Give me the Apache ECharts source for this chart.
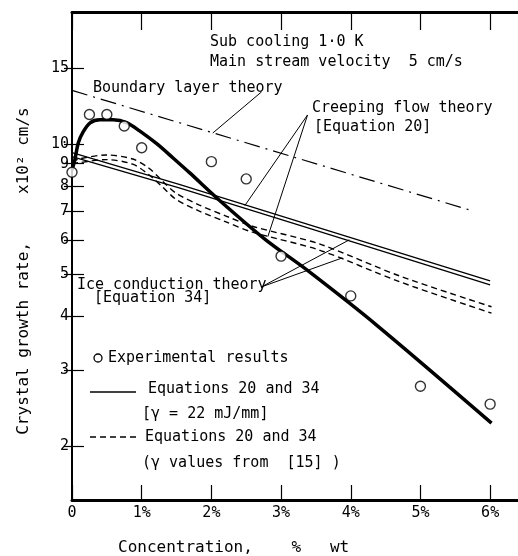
<!DOCTYPE html>
<html>
<head>
<meta charset="utf-8">
<script src="https://cdn.jsdelivr.net/npm/echarts@6/dist/echarts.min.js"></script>
<style>
  html, body { margin: 0; padding: 0; background: #fff; }
  #chart { width: 518px; height: 556px; }
</style>
</head>
<body>
<div id="chart"></div>
<script>
const FONT = '"DejaVu Sans Mono", monospace';

// concentration (% wt) ticks and growth-rate ticks (x10^2 cm/s)
const xTicks = [0, 1, 2, 3, 4, 5, 6];
const yTicks = [2, 3, 4, 5, 6, 7, 8, 9, 10, 15];

// experimental results (circles)
const expX = [0, 0.25, 0.5, 0.75, 1, 2, 2.5, 3, 4, 5, 6];
const expY = [8.6, 11.7, 11.7, 11.0, 9.8, 9.1, 8.3, 5.5, 4.45, 2.75, 2.5];

// heavy curve through the experiments
const fitX = [0, 0.04, 0.09, 0.16, 0.26, 0.4, 0.59, 0.79, 0.97, 1.22, 1.45, 1.69, 2.11, 2.78, 3.37, 4.37, 6.02];
const fitY = [8.71, 9.18, 10.05, 10.66, 11.19, 11.37, 11.37, 11.19, 10.72, 10.0, 9.28, 8.57, 7.42, 6.0, 5.11, 3.81, 2.26];

// boundary layer theory (dash-dot)
const blX = [0, 5.75];
const blY = [13.3, 7.0];

// equations 20 and 34, gamma = 22 mJ/mm (solid pair)
const solX = [0, 1.55, 3.27, 6];
const sol20Y = [9.55, 8.05, 6.6, 4.82];
const sol34Y = [9.35, 7.9, 6.48, 4.72];

// equations 20 and 34, gamma values from [15] (dashed pair)
const dashX = [0, 0.1, 0.49, 0.87, 1.1, 1.3, 1.49, 1.82, 2.21, 2.59, 3.55, 4.7, 6.02];
const dash20Y = [9.09, 9.23, 9.43, 9.23, 8.8, 8.2, 7.7, 7.23, 6.81, 6.45, 5.87, 4.95, 4.2];
const dash34Y = [9.0, 9.05, 9.2, 8.98, 8.5, 7.95, 7.45, 7.0, 6.6, 6.25, 5.68, 4.8, 4.06];

// leader lines from the labels
const leadBL = [[2.02, 10.6], [2.72, 13.2]];
const leadCreep = [[2.48, 7.2], [3.38, 11.67], [2.81, 6.1]];
const leadIce = [[3.98, 6.0], [2.72, 4.67], [3.88, 5.45]];

const zip = (xs, ys) => xs.map((x, i) => [x, ys[i]]);

const lineSeries = (data, width, type, smooth) => ({
	type: "line",
	data: data,
	showSymbol: false,
	smooth: smooth || false,
	silent: true,
	lineStyle: { color: "#000", width: width, type: type || "solid" }
});

const txt = (text, x, y, size) => ({
	type: "text",
	x: x,
	y: y,
	style: {
		text: text,
		font: (size || 15) + "px " + FONT,
		fill: "#000",
		verticalAlign: "middle",
		textVerticalAlign: "middle"
	}
});

const chart = echarts.init(document.getElementById("chart"));

const option = {
	animation: false,
	backgroundColor: "#fff",
	grid: { left: 72, right: 0, top: 12, bottom: 56, outerBoundsMode: "none", containLabel: false },
	xAxis: [
		{
			type: "value",
			min: 0,
			max: 6.4,
			interval: 1,
			position: "bottom",
			axisLine: { lineStyle: { color: "#000", width: 3 } },
			axisTick: { inside: true, length: 15, customValues: xTicks, lineStyle: { color: "#000", width: 1.2 } },
			axisLabel: {
				customValues: xTicks,
				color: "#000",
				fontFamily: FONT,
				fontSize: 15,
				margin: 6,
				formatter: v => (v === 0 ? "0" : v + "%")
			},
			splitLine: { show: false }
		},
		{
			type: "value",
			min: 0,
			max: 6.4,
			interval: 1,
			position: "top",
			axisLine: { lineStyle: { color: "#000", width: 3 } },
			axisTick: { inside: true, length: 18, customValues: xTicks, lineStyle: { color: "#000", width: 1.2 } },
			axisLabel: { show: false },
			splitLine: { show: false }
		}
	],
	yAxis: [
		{
			type: "log",
			logBase: 10,
			min: 1.5,
			max: 20.2,
			position: "left",
			axisLine: { show: true, lineStyle: { color: "#000", width: 2 } },
			axisTick: { inside: true, length: 12, customValues: yTicks, lineStyle: { color: "#000", width: 1.2 } },
			axisLabel: {
				customValues: yTicks,
				color: "#000",
				fontFamily: FONT,
				fontSize: 15,
				margin: 3,
				formatter: v => String(Math.round(v))
			},
			splitLine: { show: false }
		},
		{
			type: "log",
			logBase: 10,
			min: 1.5,
			max: 20.2,
			position: "right",
			axisLine: { show: false },
			axisTick: { show: true, inside: true, length: 8, customValues: yTicks, lineStyle: { color: "#000", width: 1.2 } },
			axisLabel: { show: false },
			splitLine: { show: false }
		}
	],
	series: [
		lineSeries(zip(blX, blY), 1.2, [16, 6, 2, 6]),
		lineSeries(zip(solX, sol20Y), 1.3),
		lineSeries(zip(solX, sol34Y), 1.3),
		lineSeries(zip(dashX, dash20Y), 1.4, [6, 4], 0.3),
		lineSeries(zip(dashX, dash34Y), 1.4, [6, 4], 0.3),
		lineSeries(zip(fitX, fitY), 3.5, "solid", 0.3),
		lineSeries(leadBL, 1),
		lineSeries(leadCreep, 1),
		lineSeries(leadIce, 1),
		{
			type: "scatter",
			data: zip(expX, expY),
			symbol: "circle",
			symbolSize: 10,
			silent: true,
			z: 5,
			itemStyle: { color: "#fff", borderColor: "#000", borderWidth: 1.4 }
		}
	],
	graphic: [
		txt("Sub cooling 1·0 K", 210, 42),
		txt("Main stream velocity  5 cm/s", 210, 62),
		txt("Boundary layer theory", 93, 88),
		txt("Creeping flow theory", 312, 108),
		txt("[Equation 20]", 314, 127),
		txt("Ice conduction theory", 77, 285),
		txt("[Equation 34]", 94, 298),
		{
			type: "circle",
			shape: { cx: 98, cy: 358, r: 4 },
			style: { fill: "#fff", stroke: "#000", lineWidth: 1.3 }
		},
		txt("Experimental results", 108, 358),
		{
			type: "line",
			shape: { x1: 90, y1: 392, x2: 136, y2: 392 },
			style: { stroke: "#000", lineWidth: 1.6 }
		},
		txt("Equations 20 and 34", 148, 389),
		txt("[γ = 22 mJ/mm]", 142, 414),
		{
			type: "line",
			shape: { x1: 90, y1: 437, x2: 137, y2: 437 },
			style: { stroke: "#000", lineWidth: 1.3, lineDash: [6, 4] }
		},
		txt("Equations 20 and 34", 145, 437),
		txt("(γ values from  [15] )", 142, 463),
		txt("Concentration,    %   wt", 118, 548, 16),
		{
			type: "text",
			x: 24,
			y: 271,
			rotation: Math.PI / 2,
			style: {
				text: "Crystal growth rate,     x10² cm/s",
				font: "16px " + FONT,
				fill: "#000",
				align: "center",
				textAlign: "center",
				verticalAlign: "middle",
				textVerticalAlign: "middle"
			}
		}
	]
};

chart.setOption(option);
</script>
</body>
</html>
